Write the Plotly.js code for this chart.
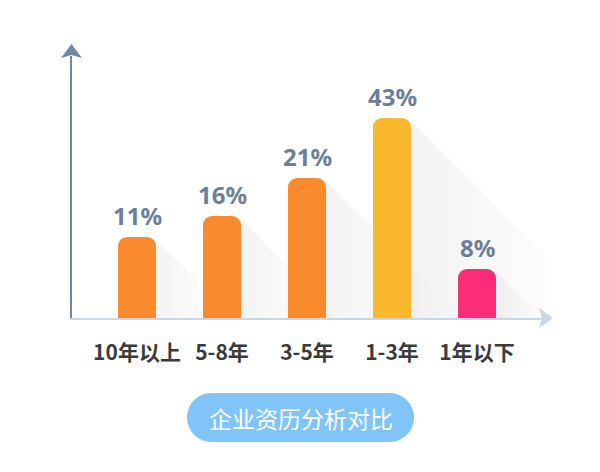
<!DOCTYPE html>
<html>
<head>
<meta charset="utf-8">
<script src="https://cdn.plot.ly/plotly-3.0.1.min.js"></script>
<style>
  html, body { margin: 0; padding: 0; background: #fff; }
  #chart { width: 600px; height: 472px; }
</style>
</head>
<body>
<div id="chart"></div>
<script>
// categories and values
const categories = ["10年以上", "5-8年", "3-5年", "1-3年", "1年以下"];
const percents = [11, 16, 21, 43, 8];
// drawn bar lengths (the picture's bars are not to scale with the percents)
const barHeights = [81, 102, 140, 200, 49];
const barColors = ["#f98b2d", "#f98b2d", "#f98b2d", "#fab92c", "#fc2c78"];
const chartTitle = "企业资历分析对比";

// page geometry
const W = 600, H = 472;
const M = { l: 72, r: 55, t: 56, b: 154 };
const plotW = W - M.l - M.r, plotH = H - M.t - M.b;
const step = 85;                 // px between bar centres
const firstCenter = 137;         // px of first bar centre
const barW = 38 / step;          // bar width in x units
const xMin = -(firstCenter - M.l) / step;
const xMax = xMin + plotW / step;

const px2x = px => (px - M.l) / plotW;
const px2y = py => (H - M.b - py) / plotH;

const idx = categories.map((c, i) => i);

// long diagonal shadows behind each bar
const shadows = idx.map(i => {
  const xr = i + barW / 2;
  const h = barHeights[i] - 3;
  return {
    type: "scatter",
    x: [xr, xr + h / step, xr, xr],
    y: [h, 0, 0, h],
    xaxis: "x", yaxis: "y",
    mode: "none",
    fill: "toself",
    fillgradient: {
      type: "horizontal",
      colorscale: [[0, "rgba(60,60,60,0.06)"], [0.5, "rgba(60,60,60,0.025)"], [1, "rgba(60,60,60,0)"]]
    },
    hoverinfo: "skip",
    showlegend: false
  };
});

const bars = {
  type: "bar",
  x: idx,
  y: barHeights,
  width: barW,
  xaxis: "x2", yaxis: "y2",
  marker: { color: barColors, cornerradius: 9, line: { width: 0 } },
  hoverinfo: "skip",
  showlegend: false
};

const labelFont = { family: "Noto Sans, sans-serif", size: 24, color: "#6c7f99", weight: "bold" };
const annotations = idx.map(i => ({
  x: i, y: barHeights[i], xref: "x2", yref: "y2",
  text: percents[i] + "%",
  showarrow: false,
  yanchor: "middle",
  yshift: 22,
  font: labelFont
}));

// title pill
const pc = { x: 300.5, y: 417.5 }, pw = 113.5, ph = 24.5;
const k = 0.5523 * ph;
const pt = (dx, dy) => px2x(pc.x + dx) + "," + px2y(pc.y + dy);
const s = pw - ph;
const pillPath =
  "M" + pt(-s, -ph) + " L" + pt(s, -ph) +
  " C" + pt(s + k, -ph) + " " + pt(pw, -k) + " " + pt(pw, 0) +
  " C" + pt(pw, k) + " " + pt(s + k, ph) + " " + pt(s, ph) +
  " L" + pt(-s, ph) +
  " C" + pt(-s - k, ph) + " " + pt(-pw, k) + " " + pt(-pw, 0) +
  " C" + pt(-pw, -k) + " " + pt(-s - k, -ph) + " " + pt(-s, -ph) + " Z";

annotations.push({
  x: px2x(pc.x), y: px2y(pc.y), xref: "paper", yref: "paper",
  text: chartTitle, showarrow: false,
  xanchor: "center", yanchor: "middle",
  font: { family: "Noto Sans CJK SC, sans-serif", size: 23, color: "#ffffff" }
});

const P = (x, y) => px2x(x) + "," + px2y(y);
const shapes = [
  { // y axis arrow head
    type: "path", xref: "paper", yref: "paper", layer: "above",
    path: "M" + P(71.5, 44) + " L" + P(82, 58) + " L" + P(71.5, 55) + " L" + P(61, 58) + " Z",
    fillcolor: "#6f87a0", line: { width: 0 }
  },
  { // x axis arrow head
    type: "path", xref: "paper", yref: "paper", layer: "above",
    path: "M" + P(553, 318) + " L" + P(539, 308) + " L" + P(542, 318) + " L" + P(539, 328) + " Z",
    fillcolor: "#c8d7e3", line: { width: 0 }
  },
  {
    type: "path", xref: "paper", yref: "paper", layer: "below",
    path: pillPath, fillcolor: "#80c4f8", line: { width: 0 }
  }
];

const layout = {
  width: W, height: H,
  margin: M,
  paper_bgcolor: "#ffffff",
  plot_bgcolor: "rgba(0,0,0,0)",
  showlegend: false,
  xaxis: {
    range: [xMin, xMax], fixedrange: true,
    tickvals: idx, ticktext: categories,
    tickfont: { family: "Noto Sans CJK SC, sans-serif", size: 21, color: "#3b3b3b", weight: "bold" },
    ticks: "", ticklabelstandoff: 15,
    showgrid: false, zeroline: false,
    showline: true, linecolor: "#c8d7e3", linewidth: 2
  },
  yaxis: {
    range: [0, plotH], fixedrange: true,
    showticklabels: false, ticks: "",
    showgrid: false, zeroline: false,
    showline: true, linecolor: "#6f87a0", linewidth: 2
  },
  xaxis2: { overlaying: "x", anchor: "y2", range: [xMin, xMax], visible: false, fixedrange: true },
  yaxis2: { overlaying: "y", anchor: "x2", range: [0, plotH], visible: false, fixedrange: true },
  annotations: annotations,
  shapes: shapes
};

Plotly.newPlot("chart", shadows.concat([bars]), layout, { staticPlot: true, displayModeBar: false });
</script>
</body>
</html>
